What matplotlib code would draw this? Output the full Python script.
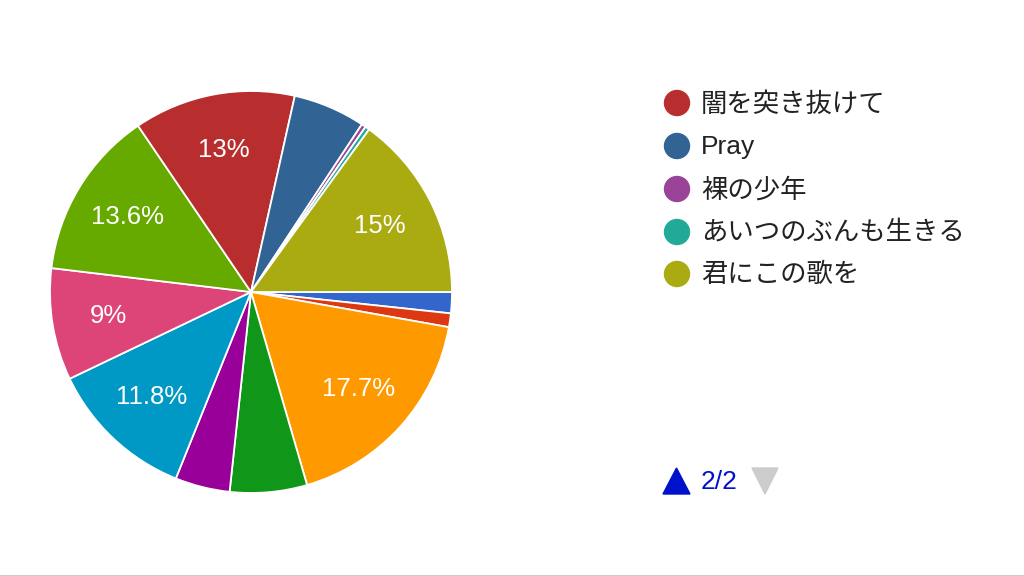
import matplotlib
matplotlib.use("Agg")
import matplotlib.pyplot as plt
import numpy as np
from matplotlib.lines import Line2D
from matplotlib.patches import Circle, Polygon

# Data (slice order as drawn, clockwise from 3 o'clock)
categories = [None, None, None, None, None, None, None, None,
              "闇を突き抜けて", "Pray", "裸の少年", "あいつのぶんも生きる", "君にこの歌を"]
values = [1.7, 1.1, 17.7, 6.2, 4.4, 11.8, 9.0, 13.6, 13.0, 5.8, 0.35, 0.35, 15.0]
colors = ["#3366cc", "#dc3912", "#ff9900", "#109618", "#990099", "#0099c6",
          "#dd4477", "#66aa00", "#b82e2e", "#316395", "#994499", "#22aa99", "#aaaa11"]
label_threshold = 8.5
legend_page = "2/2"

plt.rcParams['font.family'] = ['Liberation Sans', 'Noto Sans CJK JP', 'DejaVu Sans']

fig = plt.figure(figsize=(10.24, 5.76), dpi=100)
W, H = 1024, 576
cx, cy, r = 251, 292, 201
ax = fig.add_axes([(cx - r) / W, (H - cy - r) / H, 2 * r / W, 2 * r / H])
wedges, _ = ax.pie(values, colors=colors, startangle=0, counterclock=False,
                   radius=1.0, wedgeprops=dict(edgecolor="white", linewidth=1.3))
for w, v in zip(wedges, values):
    if v >= label_threshold:
        ang = np.deg2rad((w.theta1 + w.theta2) / 2)
        ax.text(0.72 * np.cos(ang), 0.72 * np.sin(ang), f"{v:g}%", color="white",
                fontsize=18.5, ha="center", va="center")
ax.set_xlim(-1, 1)
ax.set_ylim(-1, 1)
ax.set_aspect("equal")
ax.axis("off")

# Legend (page 2)
lax = fig.add_axes([0, 0, 1, 1])
lax.set_xlim(0, W)
lax.set_ylim(H, 0)
lax.axis("off")
shown = [(c, col) for c, col in zip(categories, colors) if c is not None]
ys = [103, 146, 189, 232, 274]
for (name, col), y in zip(shown, ys):
    lax.add_patch(Circle((677, y), 12.5, color=col))
    lax.text(701, y + 1, name, fontsize=19, va="center", ha="left", color="#222222",
             family=['Liberation Sans', 'Noto Sans CJK JP'])

# Pager
lax.add_patch(Polygon([[663, 494], [690, 494], [676.5, 468]], closed=True, color="#0011cc"))
lax.text(701, 482, legend_page, fontsize=19, color="#0011cc", va="center", ha="left")
lax.add_patch(Polygon([[752, 468], [778, 468], [765, 494]], closed=True, color="#cccccc"))

# bottom border
fig.add_artist(Line2D([0, 1], [0.5 / H, 0.5 / H], color="#cccccc", linewidth=1.5))

fig.savefig("out.png", dpi=100)
